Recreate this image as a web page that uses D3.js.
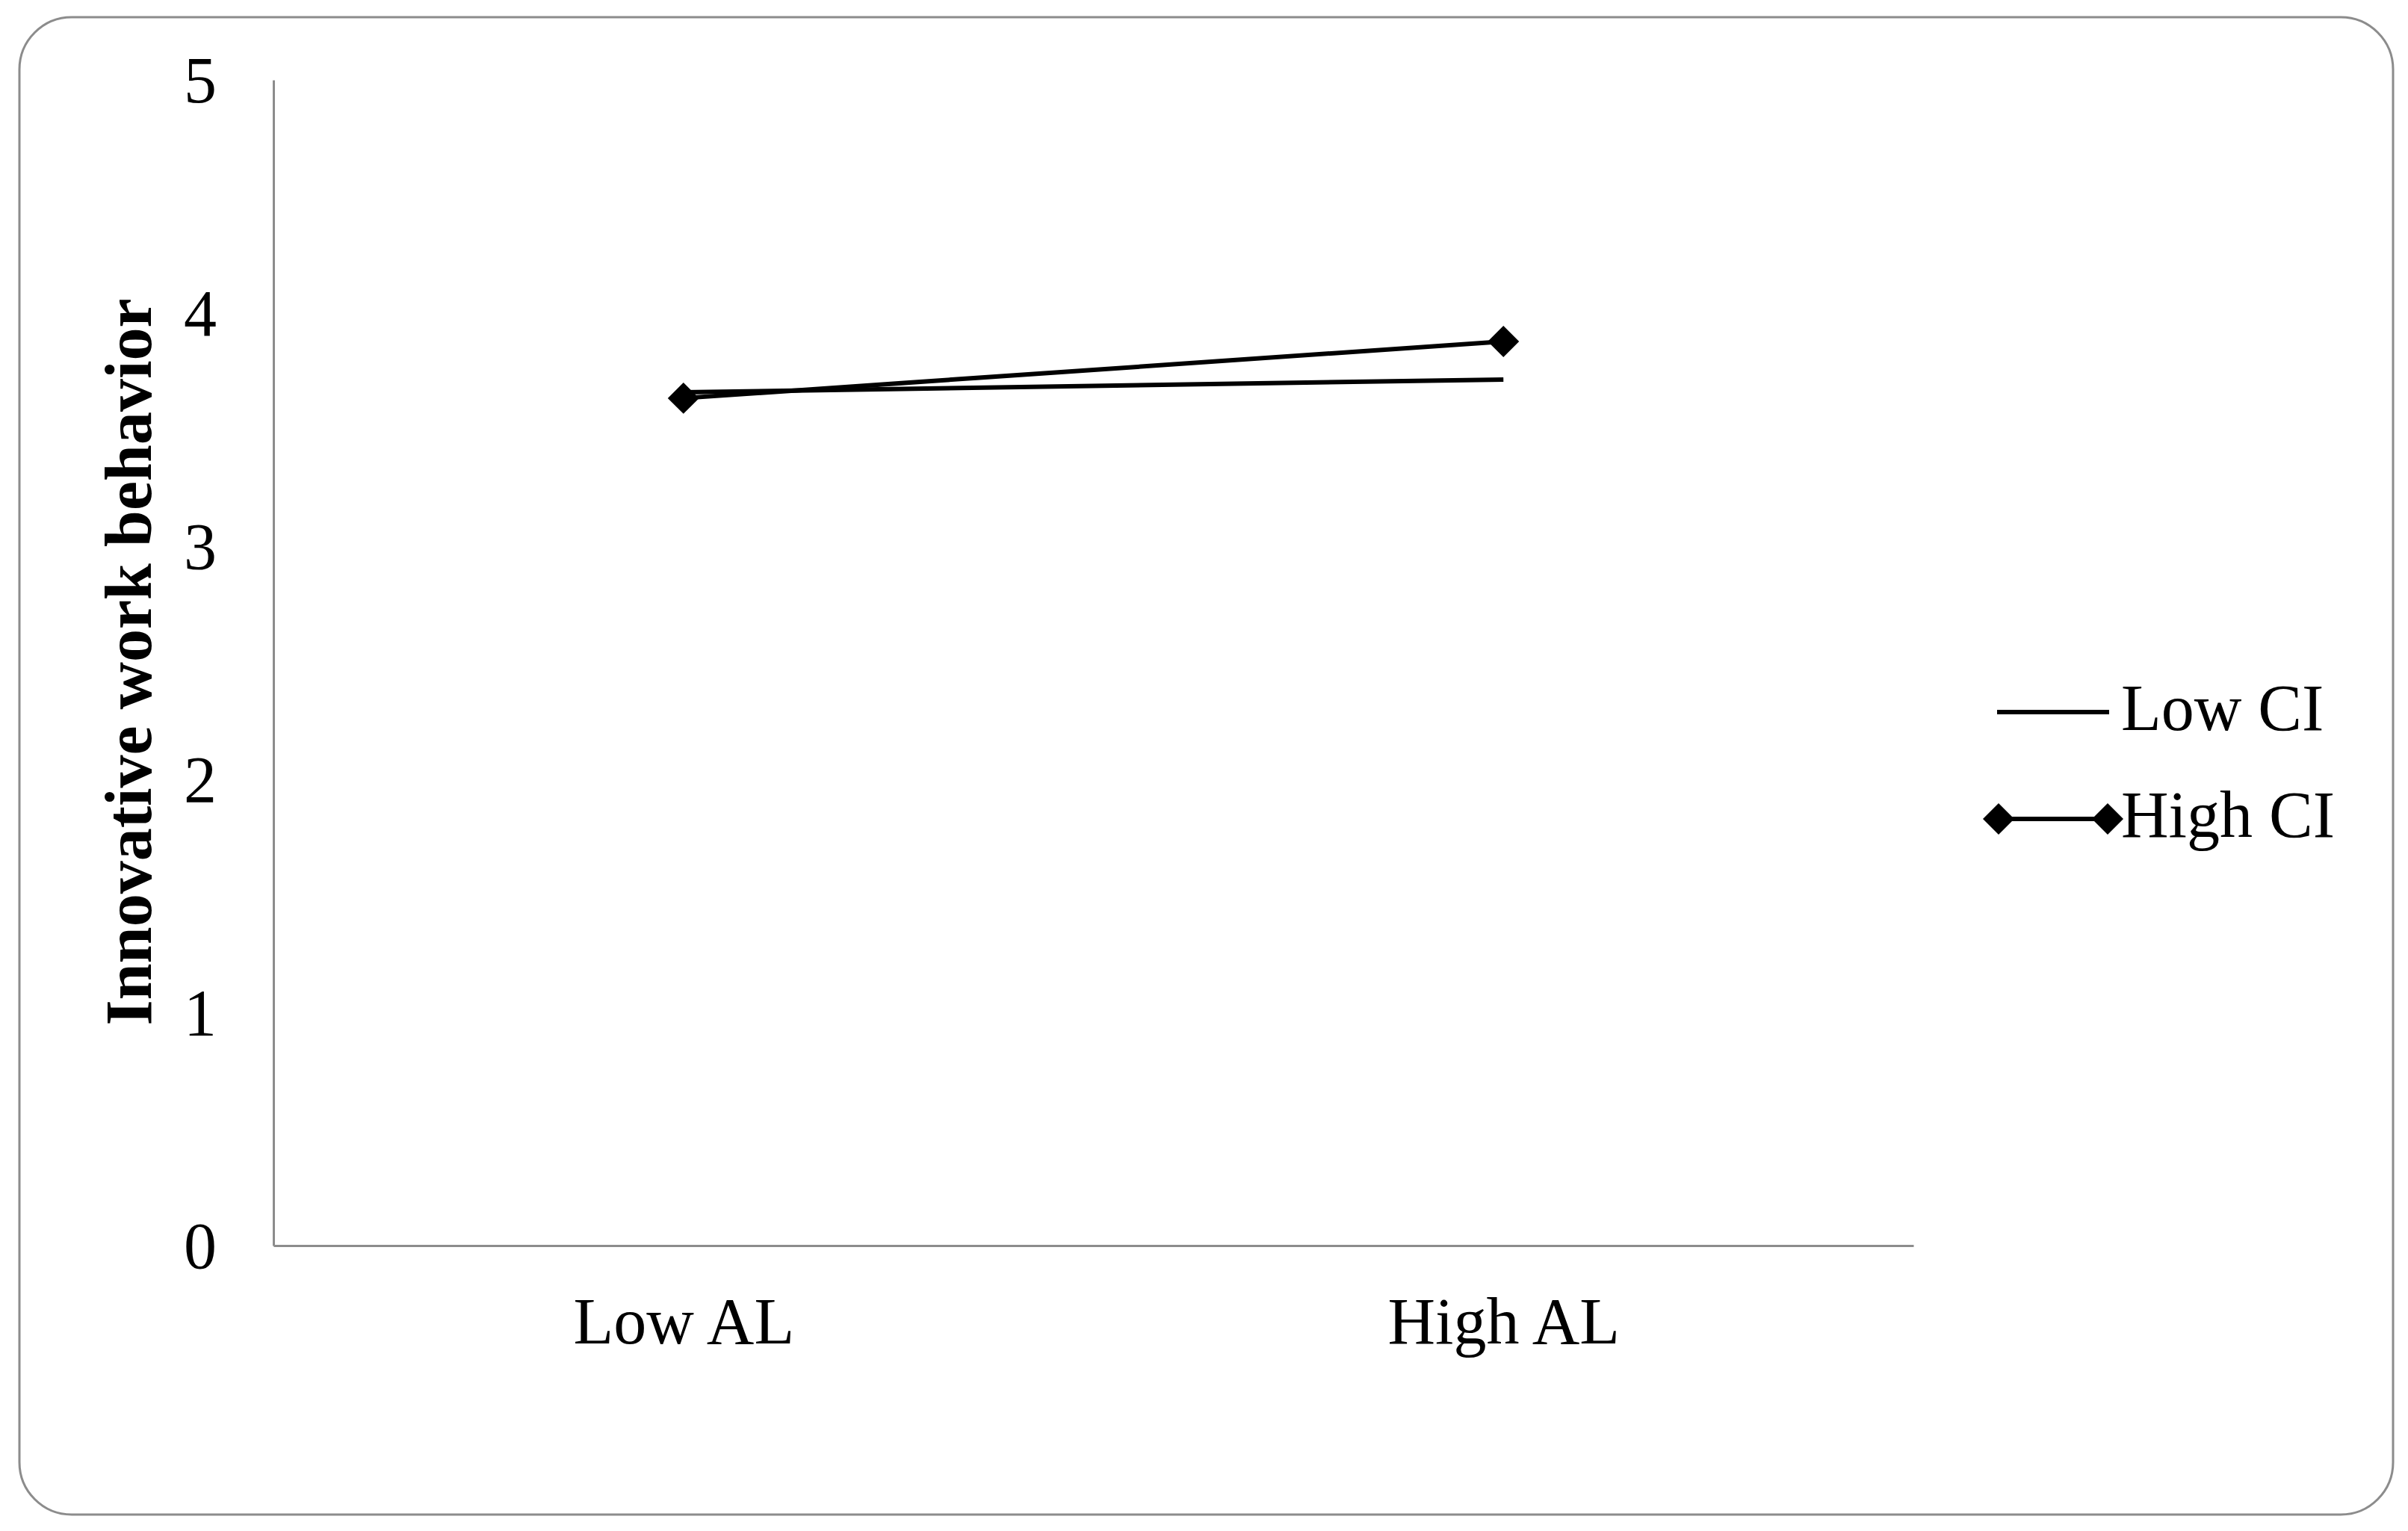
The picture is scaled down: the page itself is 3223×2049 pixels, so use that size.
<!DOCTYPE html>
<html>
<head>
<meta charset="utf-8">
<script src="https://cdn.jsdelivr.net/npm/d3@7"></script>
<style>
    html, body { margin: 0; padding: 0; background: #fff; }
    svg { display: block; font-family: "Liberation Serif", "Times New Roman", serif; }
</style>
</head>
<body>
<div id="mainChart"></div>
<script>
const categories = ['Low AL', 'High AL'];
const seriesNames = ['Low CI', 'High CI'];
const lowCI = [3.66, 3.715];
const highCI = [3.635, 3.878];
const yTicks = [0, 1, 2, 3, 4, 5];
const yTitle = 'Innovative work behavior';

const width = 3223;
const height = 2049;
const margin = { top: 107, right: 662, bottom: 382, left: 366 };
const axisColor = '#8c8c8c';
const fontSize = 88;

const svg = d3.select('#mainChart').append('svg')
    .attr('width', width)
    .attr('height', height);

// rounded frame
svg.append('rect')
    .attr('x', 26)
    .attr('y', 23)
    .attr('width', 3177)
    .attr('height', 2004)
    .attr('rx', 70)
    .attr('fill', '#fff')
    .attr('stroke', axisColor)
    .attr('stroke-width', 3);

const x = d3.scalePoint()
    .domain(categories)
    .range([margin.left, width - margin.right])
    .padding(0.5);

const y = d3.scaleLinear()
    .domain([0, 5])
    .range([height - margin.bottom, margin.top]);

// y axis
svg.append('g')
    .attr('transform', `translate(${margin.left},0)`)
    .call(d3.axisLeft(y).tickValues(yTicks).tickSize(0).tickPadding(76).tickFormat(d3.format('d')))
    .call(g => g.select('.domain').attr('stroke', axisColor).attr('stroke-width', 3))
    .call(g => g.selectAll('.tick text')
        .attr('font-size', fontSize)
        .attr('font-family', '"Liberation Serif", serif')
        .attr('fill', '#000')
        .attr('dy', '0.33em'));

// x axis
svg.append('g')
    .attr('transform', `translate(0,${height - margin.bottom})`)
    .call(d3.axisBottom(x).tickSize(0).tickSizeOuter(0))
    .call(g => g.select('.domain').attr('stroke', axisColor).attr('stroke-width', 3))
    .call(g => g.selectAll('.tick text')
        .attr('font-size', fontSize)
        .attr('font-family', '"Liberation Serif", serif')
        .attr('fill', '#000')
        .attr('y', 131)
        .attr('dy', null));

// y title
svg.append('text')
    .attr('transform', `translate(202,886) rotate(-90)`)
    .attr('text-anchor', 'middle')
    .attr('font-size', fontSize)
    .attr('font-weight', 'bold')
    .attr('fill', '#000')
    .text(yTitle);

const line = d3.line()
    .x((d, i) => x(categories[i]))
    .y(d => y(d));

const diamond = d3.symbol().type(d3.symbolSquare).size(880);

// Low CI
svg.append('path')
    .datum(lowCI)
    .attr('fill', 'none')
    .attr('stroke', '#000')
    .attr('stroke-width', 6)
    .attr('stroke-linejoin', 'round')
    .attr('d', line);

// High CI
svg.append('path')
    .datum(highCI)
    .attr('fill', 'none')
    .attr('stroke', '#000')
    .attr('stroke-width', 6)
    .attr('stroke-linejoin', 'round')
    .attr('d', line);

svg.append('g').selectAll('path')
    .data(highCI)
    .join('path')
    .attr('transform', (d, i) => `translate(${x(categories[i])},${y(d)}) rotate(45)`)
    .attr('d', diamond)
    .attr('fill', '#000');

// legend
const legend = svg.append('g').attr('transform', 'translate(2673,953)');
seriesNames.forEach((name, i) => {
    const row = legend.append('g').attr('transform', `translate(0,${i * 143})`);
    row.append('line')
        .attr('x1', 0).attr('x2', 150)
        .attr('y1', 0).attr('y2', 0)
        .attr('stroke', '#000')
        .attr('stroke-width', 6);
    if (i === 1) {
        row.selectAll('path')
            .data([2, 148])
            .join('path')
            .attr('transform', d => `translate(${d},0) rotate(45)`)
            .attr('d', diamond)
            .attr('fill', '#000');
    }
    row.append('text')
        .attr('x', 166)
        .attr('y', 24)
        .attr('font-size', fontSize)
        .attr('fill', '#000')
        .text(name);
});
</script>
</body>
</html>
